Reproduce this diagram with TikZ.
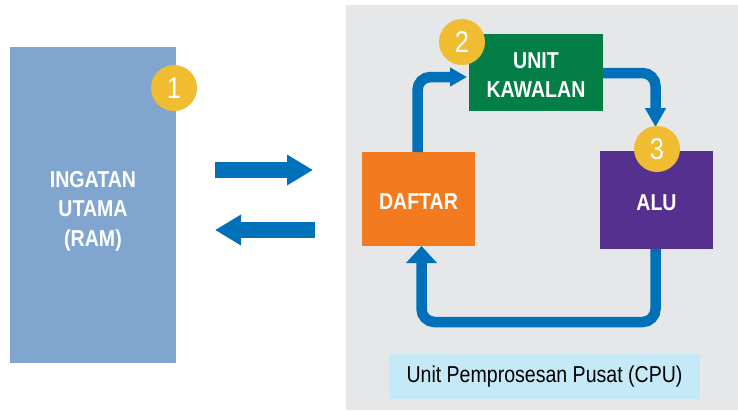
\documentclass[tikz,border=0pt]{standalone}
\usepackage{fontspec}
\setmainfont{Liberation Sans}
\newfontfamily\cond{Liberation Sans}[FakeStretch=0.85]
\usetikzlibrary{arrows.meta,calc}
\definecolor{panelgray}{HTML}{E6E7E8}
\definecolor{ramblue}{HTML}{80A6CF}
\definecolor{arrowblue}{HTML}{0071B9}
\definecolor{cugreen}{HTML}{037E47}
\definecolor{dforange}{HTML}{F47A20}
\definecolor{alupurple}{HTML}{55308E}
\definecolor{badgeyellow}{HTML}{EFBC32}
\definecolor{labelblue}{HTML}{C6E9F8}
\tikzset{
  box/.style={draw=none, inner sep=0pt, anchor=north west},
  boxtext/.style={text=white, font=\cond\bfseries\fontsize{23}{29.5}\selectfont, align=center},
  badge/.style={circle, fill=badgeyellow, minimum size=46pt, inner sep=0pt,
    text=white, font=\cond\fontsize{30}{30}\selectfont},
  bigarrow/.style={draw=arrowblue, line width=15.5pt,
    -{Triangle[length=26pt,width=29pt]}},
  looparrow/.style={draw=arrowblue, line width=10.5pt, rounded corners=13pt},
}
\begin{document}
\begin{tikzpicture}[x=1pt,y=-1pt]
\useasboundingbox (0,0) rectangle (738,410);
% CPU panel
\fill[panelgray] (346,5) rectangle (738,410);
% RAM
\node[box, fill=ramblue, minimum width=166pt, minimum height=316pt] (ram) at (10,47) {};
\node[boxtext] (ramtext) at (93,211) {INGATAN\\UTAMA\\(RAM)};
\node[badge] (c1) at (174,88) {1};
% transfer arrows
\coordinate (r1) at (215,170);
\coordinate (r2) at (313,170);
\coordinate (l1) at (315,230);
\coordinate (l2) at (215,230);
\draw[bigarrow] (r1) -- (r2);
\draw[bigarrow] (l1) -- (l2);
% CPU boxes
\node[box, fill=cugreen, minimum width=134pt, minimum height=77pt] (unit) at (469,34) {};
\node[boxtext] (unittext) at (536,75) {UNIT\\KAWALAN};
\node[box, fill=dforange, minimum width=113pt, minimum height=94pt] (daftar) at (362,152) {};
\node[boxtext] (daftartext) at (418.5,201.5) {DAFTAR};
\node[box, fill=alupurple, minimum width=113pt, minimum height=98pt] (alu) at (600,151) {};
\node[boxtext] (alutext) at (656.5,203) {ALU};
% loop arrows
\coordinate (a1s) at (417.5,152);
\coordinate (a1e) at (467,77);
\draw[looparrow, -{Triangle[length=17pt,width=18pt]}] (a1s) |- (a1e);
\coordinate (a2s) at (603,73);
\coordinate (a2e) at (655.5,127);
\draw[looparrow, -{Triangle[length=19pt,width=20pt]}] (a2s) -| (a2e);
\coordinate (a3s) at (655.5,249);
\coordinate (a3m) at (655.5,322);
\coordinate (a3e) at (421.5,246);
\draw[looparrow, -{Triangle[length=17pt,width=30pt]}] (a3s) -- (a3m) -| (a3e);
% badges
\node[badge] (c2) at (462,42) {2};
\node[badge] (c3) at (657,149) {3};
% label
\node[fill=labelblue, minimum width=311pt, minimum height=45pt, inner sep=0pt,
  font=\cond\fontsize{23}{23}\selectfont, text=black] (cpulabel) at (544.5,376.5) {Unit Pemprosesan Pusat (CPU)};
\end{tikzpicture}
\end{document}
